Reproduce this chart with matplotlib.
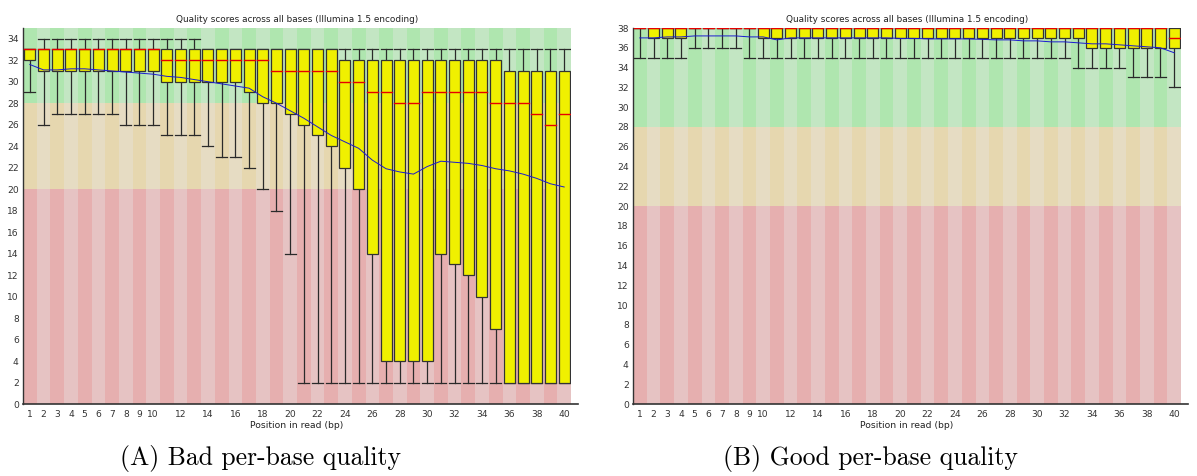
import matplotlib
matplotlib.use('Agg')
import matplotlib.pyplot as plt

# posiciones en la lectura (1..40)
posiciones = list(range(1, 41))
etiquetas_x = list(range(1, 11)) + list(range(12, 41, 2))

# --- panel A: mala calidad ---
malo_q1 = [32] + [31] * 9 + [30] * 6 + [29, 28, 28, 27, 26, 25, 24, 22, 20, 14,
                                        4, 4, 4, 4, 14, 13, 12, 10, 7] + [2] * 5
malo_q3 = [33] * 23 + [32] * 12 + [31] * 5
malo_mediana = [33] * 10 + [32] * 8 + [31] * 5 + [30, 30, 29, 29, 28, 28,
                                                   29, 29, 29, 29, 29, 28, 28, 28, 27, 26, 27]
malo_inferior = [29, 26, 27, 27, 27, 27, 27, 26, 26, 26, 25, 25, 25, 24, 23, 23,
                 22, 20, 18, 14] + [2] * 20
malo_superior = [33] + [34] * 12 + [33] * 27
malo_media = [31.6, 31.1, 31.1, 31.2, 31.2, 31.1, 31.0, 30.9, 30.8, 30.7,
              30.5, 30.4, 30.2, 30.0, 29.8, 29.6, 29.4, 28.6, 28.0, 27.3,
              26.6, 25.8, 25.0, 24.4, 23.8, 22.7, 21.9, 21.6, 21.4, 22.1,
              22.6, 22.5, 22.4, 22.2, 21.9, 21.7, 21.4, 21.0, 20.5, 20.2]

# --- panel B: buena calidad ---
bueno_q1 = [38, 37, 37, 37, 38, 38, 38, 38, 38] + [37] * 24 + [36] * 7
bueno_q3 = [38] * 40
bueno_mediana = [38] * 39 + [37]
bueno_inferior = [35] * 4 + [36] * 4 + [35] * 24 + [34] * 4 + [33] * 3 + [32]
bueno_superior = [38] * 40
bueno_media = [37.0, 37.0, 37.1, 37.1, 37.2, 37.2, 37.2, 37.2, 37.1, 37.1,
               36.8, 37.0, 37.0, 37.0, 37.0, 37.0, 37.0, 37.0, 37.0, 36.95,
               36.95, 36.9, 36.9, 36.9, 36.9, 36.85, 36.8, 36.8, 36.7, 36.7,
               36.6, 36.6, 36.5, 36.4, 36.4, 36.3, 36.2, 36.1, 36.0, 35.5]

# colores de fondo (oscuro, claro) por zona
zonas = [
    (0, 20, '#e6afaf', '#e6c3c3'),
    (20, 28, '#e6d7af', '#e6dcc3'),
    (28, 100, '#afe6af', '#c3e6c3'),
]


def dibujar_panel(ax, q1, q3, mediana, inferior, superior, media, ymax):
    """Dibuja un grafico de calidad por base estilo FastQC."""
    # bandas de fondo
    for p in posiciones:
        for y0, y1, oscuro, claro in zonas:
            color = oscuro if p % 2 == 1 else claro
            ax.fill_between([p - 0.5, p + 0.5], y0, min(y1, ymax),
                            color=color, lw=0, zorder=0)

    ancho = 0.8
    # bigotes
    for p, lo, a, b, hi in zip(posiciones, inferior, q1, q3, superior):
        ax.plot([p, p], [lo, a], color='#2a2a2a', lw=0.9, zorder=2)
        ax.plot([p, p], [b, hi], color='#2a2a2a', lw=0.9, zorder=2)
        ax.plot([p - ancho / 2, p + ancho / 2], [lo, lo], color='#2a2a2a', lw=0.9, zorder=2)
        ax.plot([p - ancho / 2, p + ancho / 2], [hi, hi], color='#2a2a2a', lw=0.9, zorder=2)

    # cajas
    alturas = [b - a for a, b in zip(q1, q3)]
    ax.bar(posiciones, alturas, bottom=q1, width=ancho, color='#f0f000',
           edgecolor='#333333', linewidth=0.9, zorder=3)

    # medianas
    for p, m in zip(posiciones, mediana):
        ax.plot([p - ancho / 2, p + ancho / 2], [m, m], color='#e60000', lw=1.0, zorder=4)

    # media
    ax.plot(posiciones, media, color='#1a1ad0', lw=0.7, zorder=5)

    ax.set_xlim(0.5, 40.5)
    ax.set_ylim(0, ymax)
    ax.set_yticks(range(0, ymax + 1, 2))
    ax.set_xticks(etiquetas_x)
    ax.tick_params(length=0, labelsize=6.6, colors='#333333')
    ax.tick_params(axis='x', pad=4)
    ax.tick_params(axis='y', pad=3)
    for lado in ['top', 'right', 'bottom']:
        ax.spines[lado].set_visible(False)
    ax.spines['left'].set_color('#333333')
    ax.spines['left'].set_linewidth(1.0)
    # eje x un poco mas largo que el area
    ax.plot([0.5, 41.0], [0, 0], color='#333333', lw=1.2, clip_on=False, zorder=6)

    ax.set_title('Quality scores across all bases (Illumina 1.5 encoding)',
                 fontsize=6.4, color='#222222', pad=4)
    ax.set_xlabel('Position in read (bp)', fontsize=6.7, color='#222222', labelpad=2)


fig = plt.figure(figsize=(11.97, 4.76), dpi=100)
ax1 = fig.add_axes([23 / 1197, 1 - 404 / 476, 548 / 1197, 376 / 476])
ax2 = fig.add_axes([633 / 1197, 1 - 404 / 476, 548 / 1197, 376 / 476])

dibujar_panel(ax1, malo_q1, malo_q3, malo_mediana, malo_inferior, malo_superior, malo_media, 35)
dibujar_panel(ax2, bueno_q1, bueno_q3, bueno_mediana, bueno_inferior, bueno_superior, bueno_media, 38)

# pies de figura
fig.text(261 / 1197, 1 - 459 / 476, '(A) Bad per-base quality', fontsize=18.5,
         family='cmr10', ha='center', va='center')
fig.text(870 / 1197, 1 - 459 / 476, '(B) Good per-base quality', fontsize=18.5,
         family='cmr10', ha='center', va='center')

plt.savefig('out.png', dpi=100)
plt.close()
